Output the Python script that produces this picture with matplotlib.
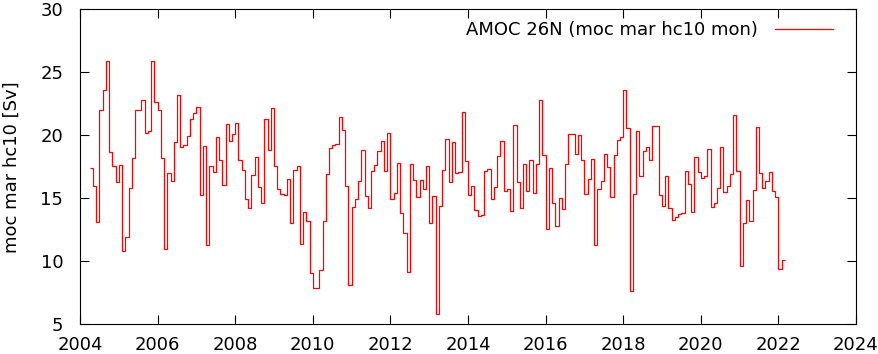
import numpy as np
import matplotlib
matplotlib.use("Agg")
import matplotlib.pyplot as plt

# monthly AMOC at 26N, first month April 2004
start_year = 2004
start_month = 4

moc = [
    17.4, 16.0, 13.1, 22.0, 23.6, 25.9, 18.65, 17.54, 16.27, 17.6, 10.82, 11.9, 15.82,
    18.2, 22.0, 22.0, 22.78, 20.2, 20.3, 25.87, 22.65, 22.0, 18.2, 10.95, 17.0, 16.35,
    19.44, 23.17, 19.05, 19.2, 19.92, 21.27, 21.75, 22.22, 15.24, 19.13, 11.27, 17.54,
    17.09, 19.84, 18.04, 16.03, 20.87, 19.52, 20.1, 20.95, 18.01, 17.25, 14.95, 14.2,
    16.82, 18.25, 15.87, 14.6, 21.27, 18.81,
    22.14, 17.54, 15.74, 15.34, 15.24, 16.5, 13.02, 17.25, 17.54, 11.35, 13.89, 13.17,
    9.07, 7.86, 7.86, 9.28, 13.17, 16.9, 18.97, 19.2, 19.31, 21.43, 20.4, 15.95, 8.1,
    14.28, 14.95, 16.37, 18.81,
    15.16, 14.2, 17.14, 17.62, 18.73, 19.52, 17.14, 20.16, 14.92, 15.4, 17.78, 13.81,
    12.22, 9.13, 17.7, 16.43, 15.08, 16.43, 15.71, 17.54, 13.02, 15.16, 5.79, 14.36,
    17.22, 19.68, 16.27, 19.44, 16.98, 17.06,
    21.82, 17.96, 15.24, 15.95, 14.05, 13.57, 13.65, 17.14, 17.3, 14.92, 15.87, 18.33,
    19.52, 15.55, 15.71, 13.97, 20.79, 16.27, 14.2, 17.7, 15.55, 18.01, 15.4, 17.7,
    22.78, 18.41, 12.54, 17.38, 14.6,
    12.78, 15.0, 14.13, 17.7, 20.08, 20.08, 18.49, 20.0, 18.02, 15.32, 16.51, 18.1,
    11.27, 15.72, 16.35, 18.49, 17.46, 15.08, 18.41, 19.6, 19.84, 23.57, 20.56, 7.62,
    15.32, 20.32, 16.75, 18.73, 19.05,
    18.01, 20.71, 20.71, 15.24, 14.36, 16.74, 14.23, 13.25, 13.49, 13.73, 13.81, 17.14,
    16.11, 13.89, 18.25, 17.06, 16.59, 16.74, 18.89, 14.28, 14.6, 15.79, 19.05, 15.47,
    15.95, 16.9, 21.59, 17.17, 9.63,
    13.02, 14.84, 13.17, 15.63, 20.63, 16.98, 15.79, 16.35, 17.06, 15.55, 15.08, 9.36,
    10.08,
]

x_ticks = list(range(2004, 2025, 2))
y_ticks = [5, 10, 15, 20, 25, 30]

plt.rcParams["font.family"] = "DejaVu Sans"
plt.rcParams["font.size"] = 13

fig = plt.figure(figsize=(8.79, 3.54), dpi=100)
ax = fig.add_axes([80 / 879, 1 - 324 / 354, 776 / 879, 314.7 / 354])

edges = start_year + (start_month - 1) / 12 + np.arange(len(moc) + 1) / 12

ax.stairs(
    moc,
    edges,
    baseline=None,
    color="#ff0000",
    linewidth=0.9,
    label="AMOC 26N (moc mar hc10 mon)"
)

ax.set_xlim(2004, 2024)
ax.set_ylim(5, 30)
ax.set_xticks(x_ticks)
ax.set_yticks(y_ticks)

ax.tick_params(
    direction="in",
    length=6.7,
    width=0.8,
    top=True,
    right=True,
    colors="black"
)
ax.tick_params(axis="y", pad=12)
ax.tick_params(axis="x", pad=9)

for s in ax.spines.values():
    s.set_linewidth(0.8)

fig.text(
    12 / 879,
    1 - 167 / 354,
    "moc mar hc10 [Sv]",
    rotation=90,
    ha="center",
    va="center"
)

ax.legend(
    loc="upper right",
    bbox_to_anchor=(0.970, 0.963),
    borderaxespad=0,
    borderpad=0,
    frameon=False,
    markerfirst=False,
    handlelength=3.2,
    handletextpad=0.94
)

plt.savefig("out.png", dpi=100)
